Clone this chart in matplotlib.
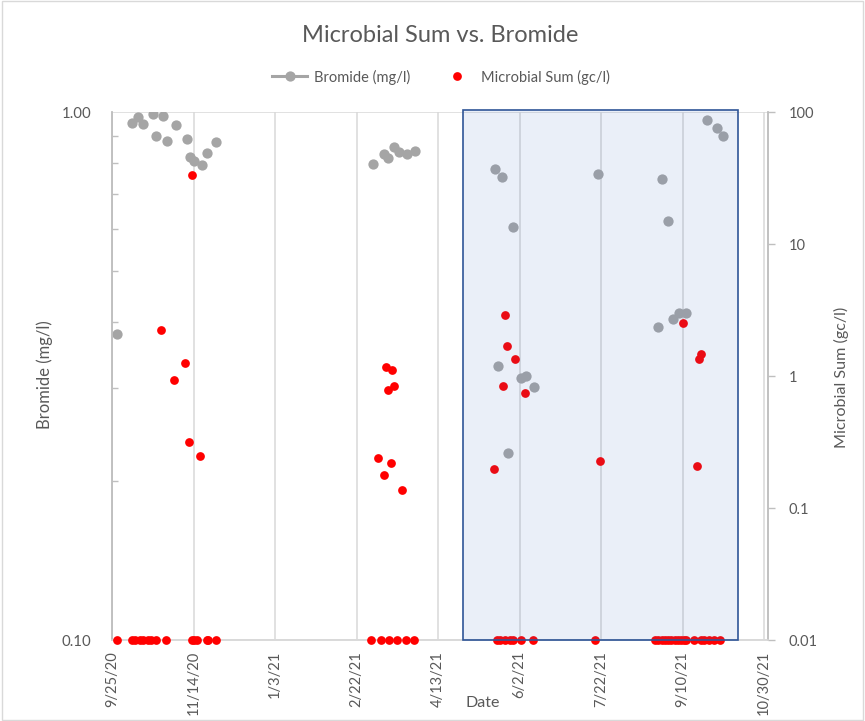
import matplotlib
matplotlib.use("Agg")
import matplotlib.pyplot as plt
import matplotlib.dates as mdates
from matplotlib.lines import Line2D
from matplotlib.patches import Rectangle
from matplotlib.ticker import FixedLocator, NullFormatter, NullLocator
import pandas as pd

plt.rcParams['font.family'] = ['Lato', 'DejaVu Sans']

# Bromide concentrations (mg/l), left axis
bromide_dates = [
    "2020-09-28", "2020-10-07", "2020-10-11", "2020-10-14", "2020-10-20",
    "2020-10-22", "2020-10-26", "2020-10-29", "2020-11-03", "2020-11-10",
    "2020-11-12", "2020-11-14", "2020-11-19", "2020-11-22", "2020-11-28",
    "2021-03-04", "2021-03-11", "2021-03-13", "2021-03-17", "2021-03-20",
    "2021-03-25", "2021-03-30",
    "2021-05-18", "2021-05-20", "2021-05-22", "2021-05-26", "2021-05-29",
    "2021-06-03", "2021-06-06", "2021-06-11", "2021-07-20",
    "2021-08-26", "2021-08-28", "2021-09-01", "2021-09-04", "2021-09-08",
    "2021-09-12", "2021-09-25", "2021-10-01", "2021-10-05",
]
bromide_mg_l = [
    0.38, 0.954, 0.98, 0.948, 0.991,
    0.899, 0.983, 0.882, 0.945, 0.888,
    0.821, 0.808, 0.793, 0.837, 0.878,
    0.798, 0.833, 0.819, 0.860, 0.841,
    0.832, 0.845,
    0.780, 0.331, 0.754, 0.226, 0.606,
    0.313, 0.316, 0.302, 0.763,
    0.392, 0.748, 0.622, 0.406, 0.416,
    0.417, 0.966, 0.933, 0.902,
]

# Microbial sum (gc/l), right axis; non-detects sit at the 0.01 floor
microbial_dates = [
    # fall 2020
    "2020-09-28", "2020-10-07", "2020-10-09", "2020-10-12", "2020-10-14",
    "2020-10-17", "2020-10-19", "2020-10-22", "2020-10-25", "2020-10-28",
    "2020-11-02", "2020-11-09", "2020-11-11", "2020-11-13", "2020-11-13",
    "2020-11-14", "2020-11-16", "2020-11-18", "2020-11-22", "2020-11-23",
    "2020-11-28",
    # spring 2021
    "2021-03-03", "2021-03-07", "2021-03-09", "2021-03-11", "2021-03-12",
    "2021-03-13", "2021-03-14", "2021-03-15", "2021-03-16", "2021-03-17",
    "2021-03-19", "2021-03-22", "2021-03-24", "2021-03-29",
    # early summer 2021
    "2021-05-17", "2021-05-19", "2021-05-21", "2021-05-23", "2021-05-24",
    "2021-05-24", "2021-05-25", "2021-05-27", "2021-05-29", "2021-05-30",
    "2021-06-03", "2021-06-05", "2021-06-10", "2021-07-18", "2021-07-21",
    # late summer 2021
    "2021-08-24", "2021-08-26", "2021-08-28", "2021-08-30", "2021-09-01",
    "2021-09-03", "2021-09-05", "2021-09-07", "2021-09-09", "2021-09-10",
    "2021-09-11", "2021-09-12", "2021-09-17", "2021-09-19", "2021-09-20",
    "2021-09-21", "2021-09-21", "2021-09-23", "2021-09-26", "2021-09-29",
    "2021-10-03",
]
microbial_gc_l = [
    0.01, 0.01, 0.01, 0.01, 0.01,
    0.01, 0.01, 0.01, 2.24, 0.01,
    0.933, 1.26, 0.318, 33.2, 0.01,
    0.01, 0.01, 0.248, 0.01, 0.01,
    0.01,
    0.01, 0.239, 0.01, 0.179, 1.17,
    0.787, 0.01, 0.218, 1.11, 0.845,
    0.01, 0.138, 0.01, 0.01,
    0.199, 0.01, 0.01, 0.845, 2.91,
    0.01, 1.68, 0.01, 0.01, 1.34,
    0.01, 0.747, 0.01, 0.01, 0.228,
    0.01, 0.01, 0.01, 0.01, 0.01,
    0.01, 0.01, 0.01, 0.01, 2.53,
    0.01, 0.01, 0.01, 0.209, 1.35,
    1.47, 0.01, 0.01, 0.01, 0.01,
    0.01,
]

x_tick_labels = ["9/25/20", "11/14/20", "1/3/21", "2/22/21", "4/13/21",
                 "6/2/21", "7/22/21", "9/10/21", "10/30/21"]
x_range = ("2020-09-25", "2021-11-01")
highlight_window = ("2021-04-28", "2021-10-14")

left_ticks = [0.1, 1.0]
left_tick_labels = ["0.10", "1.00"]
right_ticks = [0.01, 0.1, 1, 10, 100]
right_tick_labels = ["0.01", "0.1", "1", "10", "100"]

TEXT = "#595959"
AXIS = "#BFBFBF"
GRID = "#D9D9D9"
GRAY = "#A5A5A5"
RED = "#FF0000"

fig = plt.figure(figsize=(8.65, 7.21), dpi=100)
ax = fig.add_axes([112 / 865, 1 - 640 / 721, (767.5 - 112) / 865, (640 - 112) / 721])
ax2 = ax.twinx()

bx = pd.to_datetime(bromide_dates)
mx = pd.to_datetime(microbial_dates)
xt = pd.to_datetime(x_tick_labels, format="%m/%d/%y")

# Bromide on the left log axis
ax.set_yscale("log")
ax.set_ylim(0.1, 1.0)
ax.set_xlim(pd.Timestamp(x_range[0]), pd.Timestamp(x_range[1]))
ax.plot(bx, bromide_mg_l, linestyle="none", marker="o", markersize=7.4,
        color=GRAY, markeredgewidth=0, zorder=3)

ax.xaxis.set_major_locator(FixedLocator(mdates.date2num(xt)))
ax.set_xticklabels(x_tick_labels, rotation=90, color=TEXT, fontsize=10.5)
ax.tick_params(axis="x", length=0, pad=8)
ax.grid(axis="x", color=GRID, linewidth=1.1, zorder=0)
ax.set_axisbelow(True)

ax.yaxis.set_major_locator(FixedLocator(left_ticks))
ax.yaxis.set_major_formatter(plt.FixedFormatter(left_tick_labels))
ax.yaxis.set_minor_locator(FixedLocator([0.2, 0.3, 0.4, 0.5, 0.6, 0.7, 0.8, 0.9]))
ax.yaxis.set_minor_formatter(NullFormatter())
ax.tick_params(axis="y", which="major", length=0, pad=15, labelsize=10.8, labelcolor=TEXT)
ax.tick_params(axis="y", which="minor", direction="in", length=4, width=1, color=AXIS)
ax.grid(axis="y", which="major", color=GRID, linewidth=1.1)

# Microbial sum on the right log axis
ax2.set_yscale("log")
ax2.set_ylim(0.01, 100)
ax2.plot(mx, microbial_gc_l, linestyle="none", marker="o", markersize=6.3,
         color=RED, markeredgewidth=0, zorder=3, clip_on=False)
ax2.yaxis.set_major_locator(FixedLocator(right_ticks))
ax2.yaxis.set_major_formatter(plt.FixedFormatter(right_tick_labels))
ax2.yaxis.set_minor_locator(NullLocator())
ax2.tick_params(axis="y", which="major", direction="out", length=5, width=1,
                color=AXIS, pad=10, labelsize=10.5, labelcolor=TEXT)

for a in (ax, ax2):
    a.spines["top"].set_visible(False)
    a.spines["left"].set_color(AXIS)
    a.spines["right"].set_color(AXIS)
    a.spines["bottom"].set_color(GRID)
    a.spines["left"].set_linewidth(1.1)
    a.spines["right"].set_linewidth(1.1)
    a.spines["bottom"].set_linewidth(1.1)

# Highlighted monitoring window drawn over the data
ax2.axvspan(pd.Timestamp(highlight_window[0]), pd.Timestamp(highlight_window[1]),
            ymin=0, ymax=1.004, facecolor=(68 / 255, 114 / 255, 196 / 255, 0.11),
            edgecolor="#2F5597", linewidth=1.2, zorder=10, clip_on=False)

# Titles and axis labels
fig.text(440 / 865, 1 - 35 / 721, "Microbial Sum vs. Bromide", ha="center", va="center",
         fontsize=17, color=TEXT)
fig.text(45 / 865, 1 - 375 / 721, "Bromide (mg/l)", rotation=90, ha="center",
         va="center", fontsize=12, color=TEXT)
fig.text(841 / 865, 1 - 377 / 721, "Microbial Sum (gc/l)", rotation=90, ha="center",
         va="center", fontsize=11.6, color=TEXT)
fig.text(483 / 865, 1 - 703 / 721, "Date", ha="center", va="center",
         fontsize=11.5, color=TEXT)

handles = [
    Line2D([], [], color=GRAY, linewidth=2.2, marker="o", markersize=7.4,
           markeredgewidth=0),
    Line2D([], [], color=RED, linestyle="none", marker="o", markersize=6.3,
           markeredgewidth=0),
]
leg = fig.legend(handles, ["Bromide (mg/l)", "Microbial Sum (gc/l)"], ncol=2,
                 loc="center", bbox_to_anchor=(441 / 865, 1 - 77 / 721), frameon=False,
                 fontsize=10.5, handlelength=2.4, handletextpad=0.45, columnspacing=2.0,
                 labelcolor=TEXT)

fig.add_artist(Rectangle((0.002, 0.002), 0.996, 0.996, transform=fig.transFigure,
                         fill=False, edgecolor=GRID, linewidth=1.0))

fig.savefig("out.png", dpi=100)
